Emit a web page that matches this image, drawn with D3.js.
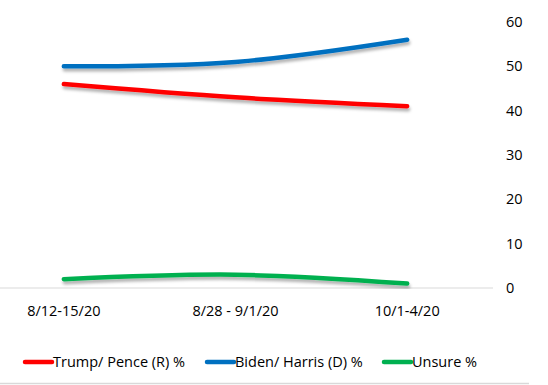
<!DOCTYPE html>
<html>
<head>
<meta charset="utf-8">
<script src="https://cdn.jsdelivr.net/npm/d3@7"></script>
<style>
  body { margin: 0; background: #fff; }
  text { font-family: "Open Sans", "Liberation Sans", sans-serif; fill: #000; }
</style>
</head>
<body>
<div id="chart"></div>
<script>
// poll data
var dates = ["8/12-15/20", "8/28 - 9/1/20", "10/1-4/20"];
var trump = [46, 43, 41];
var biden = [50, 51, 56];
var unsure = [2, 3, 1];
var yTicks = [0, 10, 20, 30, 40, 50, 60];

var seriesNames = ["Trump/ Pence (R) %", "Biden/ Harris (D) %", "Unsure %"];
var seriesColors = ["#ff0000", "#0070c0", "#00b050"];
var seriesValues = [trump, biden, unsure];

var width = 548,
    height = 385;

var svg = d3.select("#chart")
    .append("svg")
    .attr("width", width)
    .attr("height", height);

// soft shadow under the lines, like Excel's
var defs = svg.append("defs");
defs.append("filter")
    .attr("id", "shadow")
    .attr("x", "-10%").attr("y", "-50%")
    .attr("width", "120%").attr("height", "200%")
    .append("feDropShadow")
    .attr("dx", 1)
    .attr("dy", 3)
    .attr("stdDeviation", 1.8)
    .attr("flood-color", "#000")
    .attr("flood-opacity", 0.3);

var x = d3.scaleBand()
    .domain(dates)
    .range([-22, 493]);

var y = d3.scaleLinear()
    .domain([0, 60])
    .range([288, 22]);

// baseline
svg.append("line")
    .attr("x1", 0)
    .attr("x2", 493)
    .attr("y1", y(0))
    .attr("y2", y(0))
    .attr("stroke", "#d9d9d9")
    .attr("stroke-width", 1);

// right-hand value labels
svg.append("g")
    .selectAll("text")
    .data(yTicks)
    .join("text")
    .attr("x", 506)
    .attr("y", function(d) { return y(d); })
    .attr("dy", "0.35em")
    .style("font-size", "14.5px")
    .text(function(d) { return d; });

// category labels
svg.append("g")
    .selectAll("text")
    .data(dates)
    .join("text")
    .attr("x", function(d) { return x(d) + x.bandwidth() / 2; })
    .attr("y", 311)
    .attr("dy", "0.35em")
    .attr("text-anchor", "middle")
    .style("font-size", "14.5px")
    .text(function(d) { return d; });

var line = d3.line()
    .x(function(d, i) { return x(dates[i]) + x.bandwidth() / 2; })
    .y(function(d) { return y(d); })
    .curve(d3.curveCatmullRom.alpha(0.5));

for (let i = 0; i < seriesValues.length; i++) {
    svg.append("path")
        .datum(seriesValues[i])
        .attr("d", line)
        .attr("fill", "none")
        .attr("stroke", seriesColors[i])
        .attr("stroke-width", 4.5)
        .attr("stroke-linecap", "round")
        .attr("filter", "url(#shadow)");
}

// legend
var legendX = [25, 207, 384];
var legend = svg.append("g");
for (let i = 0; i < seriesNames.length; i++) {
    legend.append("line")
        .attr("x1", legendX[i])
        .attr("x2", legendX[i] + 27)
        .attr("y1", 362)
        .attr("y2", 362)
        .attr("stroke", seriesColors[i])
        .attr("stroke-width", 4.5)
        .attr("stroke-linecap", "round");
    legend.append("text")
        .attr("x", legendX[i] + 28)
        .attr("y", 362)
        .attr("dy", "0.35em")
        .style("font-size", "14.5px")
        .text(seriesNames[i]);
}

// chart border, only its bottom edge shows
svg.append("line")
    .attr("x1", 0)
    .attr("x2", 529)
    .attr("y1", 383.5)
    .attr("y2", 383.5)
    .attr("stroke", "#d9d9d9")
    .attr("stroke-width", 1.5);
</script>
</body>
</html>
